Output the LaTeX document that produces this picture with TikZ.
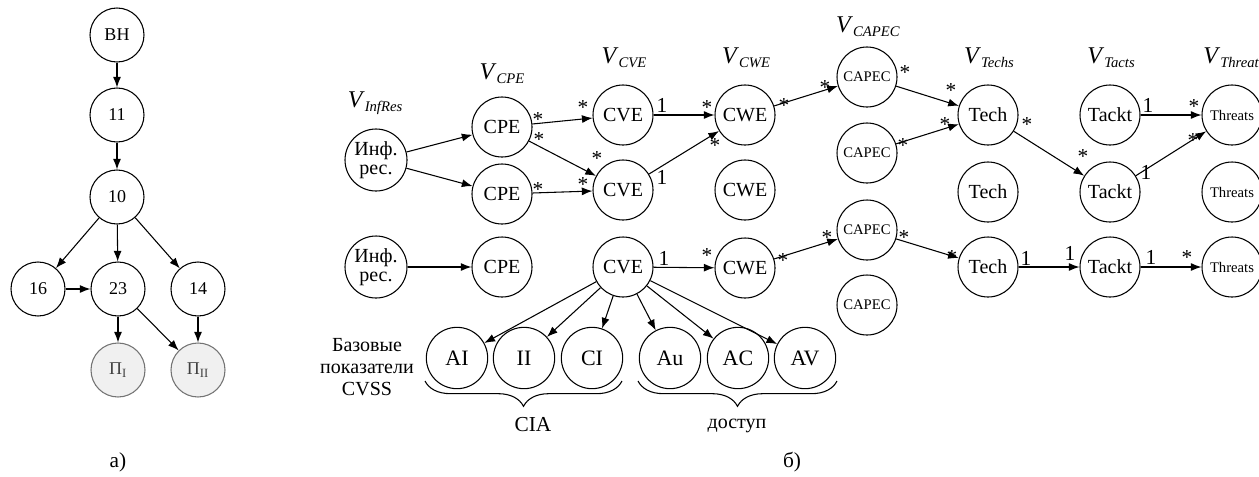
\documentclass[tikz,border=0pt]{standalone}
\usepackage{fontspec}
\setmainfont{Liberation Serif}
\usetikzlibrary{arrows.meta,decorations.pathreplacing}
\newcommand\vlab[1]{{\fontsize{18}{20}\selectfont\textit{V}}\raisebox{-3pt}{\fontsize{11}{12}\selectfont\textit{#1}}}
\begin{document}
\begin{tikzpicture}[x=0.75pt,y=-0.75pt,
  every node/.style={inner sep=0pt},
  na/.style={circle,draw,line width=0.8pt,minimum size=40.5pt,font=\fontsize{13.5}{15}\selectfont},
  pa/.style={na,draw=black!55,fill=black!6,text=black!75},
  nb/.style={circle,draw,line width=0.8pt,minimum size=45pt,font=\fontsize{15}{17}\selectfont},
  ns/.style={nb,font=\fontsize{11}{13}\selectfont},
  nc/.style={nb,minimum size=46pt,font=\fontsize{16.5}{18}\selectfont},
  ar/.style={line width=0.8pt,-{Latex[length=8pt,width=6pt]}},
  st/.style={font=\fontsize{16}{18}\selectfont,yshift=-2pt},
  on/.style={font=\fontsize{16}{18}\selectfont},
  lbl/.style={font=\fontsize{16}{18}\selectfont},
  br/.style={decorate,decoration={brace,mirror,amplitude=19pt,aspect=0.5},line width=0.8pt}
]
\useasboundingbox (0,0) rectangle (1259,476);
\clip (0,0) rectangle (1259,476);
% ---------- part a ----------
\node[na] (bh) at (117,35) {ВН};
\node[na] (a11) at (117,115) {11};
\node[na] (a10) at (117,197) {10};
\node[na] (a16) at (38,289) {16};
\node[na] (a23) at (118,289) {23};
\node[na] (a14) at (198,289) {14};
\node[pa] (p1) at (118,370) {П\textsubscript{I}};
\node[pa] (p2) at (198,370) {П\textsubscript{II}};
\draw[ar] (bh) -- (a11);
\draw[ar] (a11) -- (a10);
\draw[ar] (a10) -- (a16);
\draw[ar] (a10) -- (a23);
\draw[ar] (a10) -- (a14);
\draw[ar] (a16) -- (a23);
\draw[ar] (a23) -- (p1);
\draw[ar] (a23) -- (p2);
\draw[ar] (a14) -- (p2);
\node[lbl] (la) at (118,462) {а)};
% ---------- part b ----------
\node[nb,minimum size=46.5pt,align=center,font=\fontsize{15}{14}\selectfont] (inf1) at (376,160) {Инф.\\рес.};
\node[nb] (cpe1) at (502,127) {CPE};
\node[nb] (cpe2) at (502,194) {CPE};
\node[nb] (cve1) at (623,115) {CVE};
\node[nb] (cve2) at (623,190) {CVE};
\node[nb] (cwe1) at (745,115) {CWE};
\node[nb] (cwe2) at (745,190) {CWE};
\node[ns] (capec1) at (867,77) {CAPEC};
\node[ns] (capec2) at (867,153) {CAPEC};
\node[nb] (tech1) at (988,115) {Tech};
\node[nb] (tech2) at (988,192) {Tech};
\node[nb] (tackt1) at (1110,115) {Tackt};
\node[nb] (tackt2) at (1110,192) {Tackt};
\node[ns] (thr1) at (1232,115) {Threats};
\node[ns] (thr2) at (1232,192) {Threats};
\node[nb,minimum size=46.5pt,align=center,font=\fontsize{15}{14}\selectfont] (inf2) at (376,267) {Инф.\\рес.};
\node[nb] (cpe3) at (502,267) {CPE};
\node[nb] (cve3) at (623,267) {CVE};
\node[nb] (cwe3) at (745,268) {CWE};
\node[ns] (capec3) at (867,230) {CAPEC};
\node[ns] (capec4) at (867,305) {CAPEC};
\node[nb] (tech3) at (988,267) {Tech};
\node[nb] (tackt3) at (1110,267) {Tackt};
\node[ns] (thr3) at (1232,267) {Threats};
\node[nc] (ai) at (457,358) {AI};
\node[nc] (ii) at (524,358) {II};
\node[nc] (ci) at (592,358) {CI};
\node[nc] (au) at (670,358) {Au};
\node[nc] (ac) at (738,358) {AC};
\node[nc] (av) at (805,358) {AV};
% column labels
\node (vinf) at (375,103) {\vlab{InfRes}};
\node (vcpe) at (502,74) {\vlab{CPE}};
\node (vcve) at (624,58) {\vlab{CVE}};
\node (vcwe) at (746,58) {\vlab{CWE}};
\node (vcapec) at (868,27) {\vlab{CAPEC}};
\node (vtechs) at (989,58) {\vlab{Techs}};
\node (vtacts) at (1111,58) {\vlab{Tacts}};
\node[anchor=west] (vthr) at (1203,58) {\vlab{Threats}};
% edges
\draw[ar] (inf1) -- (cpe1);
\draw[ar] (inf1) -- (cpe2);
\draw[ar] (cpe1) -- (cve1);
\draw[ar] (cpe1) -- (cve2);
\draw[ar] (cpe2) -- (cve2);
\draw[ar] (cve1) -- (cwe1);
\draw[ar] (cve2) -- (cwe1);
\draw[ar] (cwe1) -- (capec1);
\draw[ar] (capec1) -- (tech1);
\draw[ar] (capec2) -- (tech1);
\draw[ar] (tech1) -- (tackt2);
\draw[ar] (tackt1) -- (thr1);
\draw[ar] (tackt2) -- (thr1);
\draw[ar] (inf2) -- (cpe3);
\draw[ar] (cve3) -- (cwe3);
\draw[ar] (cwe3) -- (capec3);
\draw[ar] (capec3) -- (tech3);
\draw[ar] (tech3) -- (tackt3);
\draw[ar] (tackt3) -- (thr3);
\draw[ar] (cve3) -- (ai);
\draw[ar] (cve3) -- (ii);
\draw[ar] (cve3) -- (ci);
\draw[ar] (cve3) -- (au);
\draw[ar] (cve3) -- (ac);
\draw[ar] (cve3) -- (av);
% multiplicity labels
\node[st] at (538,117) {*};
\node[st] at (539,137) {*};
\node[st] at (583,105) {*};
\node[st] at (597,156) {*};
\node[st] at (538,187) {*};
\node[st] at (583,182) {*};
\node[on] at (662,105) {1};
\node[st] at (707,105) {*};
\node[st] at (715,143) {*};
\node[on] at (662,177) {1};
\node[st] at (784,103) {*};
\node[st] at (825,85) {*};
\node[st] at (905,70) {*};
\node[st] at (903,143) {*};
\node[st] at (951,88) {*};
\node[st] at (945,122) {*};
\node[st] at (1027,122) {*};
\node[st] at (1083,154) {*};
\node[on] at (1148,105) {1};
\node[st] at (1194,104) {*};
\node[st] at (1193,138) {*};
\node[on] at (1146,172) {1};
\node[on] at (664,258) {1};
\node[st] at (707,253) {*};
\node[st] at (783,258) {*};
\node[st] at (827,235) {*};
\node[st] at (904,235) {*};
\node[st] at (952,255) {*};
\node[on] at (1026,258) {1};
\node[on] at (1070,253) {1};
\node[on] at (1151,257) {1};
\node[st] at (1187,255) {*};
% CVSS
\node[lbl,align=center,font=\fontsize{15}{16.5}\selectfont] (cvss) at (367,367) {Базовые\\показатели\\CVSS};
\coordinate (b1) at (425,381);
\coordinate (b2) at (622,381);
\coordinate (b3) at (638,381);
\coordinate (b4) at (837,381);
\draw[br] (b1) -- (b2);
\draw[br] (b3) -- (b4);
\node[lbl,anchor=base,font=\fontsize{16}{18}\selectfont] (cia) at (533,431) {CIA};
\node[lbl,anchor=base,font=\fontsize{15}{17}\selectfont] (dost) at (737,428) {доступ};
\node[lbl] (lb) at (792,462) {б)};
\end{tikzpicture}
\end{document}
